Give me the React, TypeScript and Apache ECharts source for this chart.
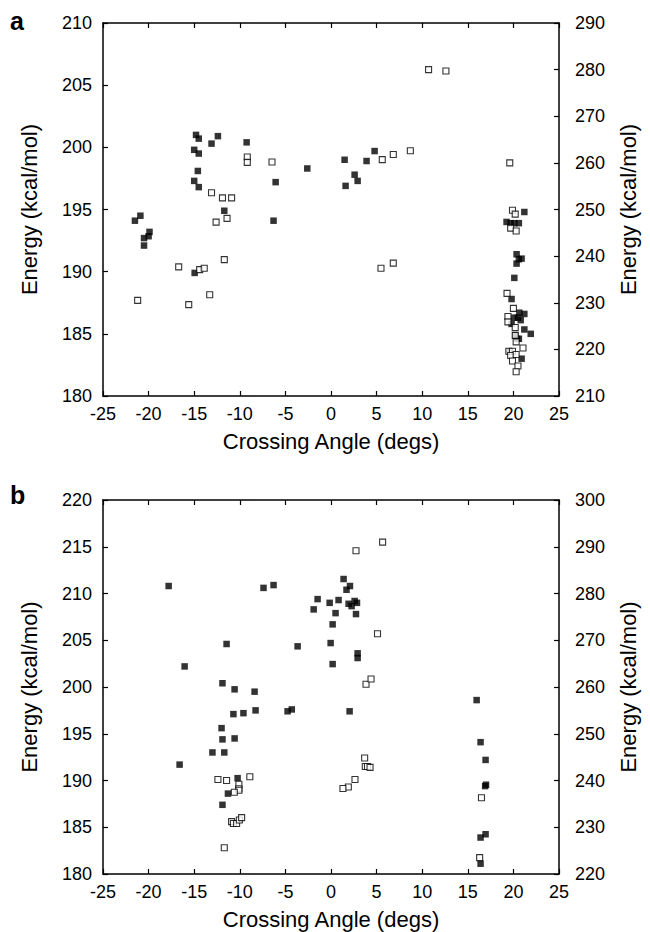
import React, { useEffect, useRef } from "react";
import * as echarts from "echarts";

// Panel a: filled squares (left axis, kcal/mol)
const aFilled: number[][] = [
  [-14.8, 201.0], [-14.5, 200.7], [-12.4, 200.9], [-13.1, 200.3], [-15.0, 199.8], [-14.5, 199.5],
  [-9.25, 200.4], [-14.6, 198.1], [-15.0, 197.3], [-14.5, 196.8], [-6.07, 197.2], [-2.6, 198.3],
  [-11.7, 194.9], [1.49, 199.0], [4.78, 199.7], [3.9, 198.9], [2.59, 197.8], [2.92, 197.3], [1.6, 196.9],
  [-21.5, 194.1], [-20.9, 194.5], [-20.5, 192.7], [-20.5, 192.1], [-20.0, 192.85], [-19.9, 193.2],
  [-14.95, 189.9], [-6.3, 194.1],
  [21.2, 194.8], [19.25, 194.0], [19.7, 193.9], [20.1, 193.9], [20.6, 193.9], [20.35, 191.4],
  [20.9, 191.05], [20.6, 191.0], [20.35, 190.65], [20.1, 189.5], [19.8, 187.8], [20.65, 186.7],
  [21.2, 186.6], [20.1, 186.3], [20.5, 186.3], [20.8, 186.1], [19.8, 185.8], [21.2, 185.35],
  [21.9, 185.0], [20.2, 184.9], [20.4, 184.6], [20.6, 184.6], [20.9, 183.0], [19.6, 183.6],
];
// Panel a: open squares (right axis)
const aOpen: number[][] = [
  [-9.18, 261.25], [-9.18, 260.1], [-6.47, 260.2], [-13.1, 253.6], [-11.9, 252.5], [-10.9, 252.5],
  [10.7, 280.0], [12.6, 279.7], [5.62, 260.7], [6.83, 261.8], [8.7, 262.6], [19.6, 260.0],
  [-21.2, 230.5], [-16.7, 237.7], [-15.6, 229.6], [-14.4, 237.1], [-13.9, 237.4], [-13.3, 231.7],
  [-12.6, 247.3], [-11.4, 248.1], [-11.7, 239.25], [5.48, 237.4], [6.83, 238.5],
  [19.9, 249.85], [20.2, 249.0], [19.7, 246.0], [20.3, 245.4], [19.3, 232.0], [20.0, 228.8],
  [19.4, 227.05], [19.4, 225.9], [20.2, 224.7], [20.2, 223.0], [20.3, 221.6], [21.05, 220.3],
  [19.5, 219.6], [19.9, 219.6], [19.7, 218.7], [20.3, 218.9], [19.9, 217.5], [20.5, 216.45], [20.3, 215.2],
];
// Panel b: filled squares (left axis)
const bFilled: number[][] = [
  [-17.8, 210.8], [-16.05, 202.2], [-11.45, 204.6], [-7.4, 210.6], [-6.3, 210.9], [-3.66, 204.35],
  [1.38, 211.55], [2.08, 210.8], [1.7, 210.4], [-1.47, 209.4], [-1.9, 208.3], [-0.15, 209.0],
  [0.83, 209.3], [0.5, 207.9], [1.93, 208.9], [2.26, 208.65], [2.59, 209.2], [2.85, 209.0],
  [2.74, 207.8], [0.18, 206.7], [-0.04, 204.7], [2.92, 203.6], [2.92, 203.1], [0.18, 202.45],
  [-11.9, 200.4], [-10.57, 199.75], [-8.38, 199.5], [-8.27, 197.5], [-9.6, 197.2], [-10.7, 197.1],
  [-4.76, 197.4], [-4.3, 197.6], [-12.0, 195.6], [-11.9, 194.4], [-10.57, 194.5], [-13.0, 193.0],
  [-11.7, 193.0], [-16.6, 191.7], [-10.24, 190.25], [-11.3, 188.6], [-11.9, 187.4],
  [2.04, 197.4], [15.97, 198.6], [16.4, 194.1], [16.95, 192.2], [17.0, 189.55], [16.9, 189.4],
  [16.95, 184.25], [16.4, 183.9], [16.4, 181.1],
];
// Panel b: open squares (right axis)
const bOpen: number[][] = [
  [5.66, 291.0], [2.74, 289.15], [5.1, 271.4],
  [-12.4, 240.2], [-11.45, 240.0], [-8.9, 240.8], [-10.1, 239.2], [-10.1, 238.25], [-10.1, 237.9],
  [-10.6, 237.5], [-10.9, 231.2], [-10.7, 230.8], [-10.35, 230.8], [-10.05, 231.55], [-9.8, 232.05],
  [-11.7, 225.6],
  [3.84, 260.6], [4.39, 261.7], [3.69, 244.8], [3.76, 243.0], [4.0, 243.0], [4.28, 242.8],
  [2.63, 240.2], [1.9, 238.6], [1.31, 238.3], [16.5, 236.3], [16.3, 223.5],
];

const xRange = [-25, 25, 5];
const aLeftRange = [180, 210, 5];
const aRightRange = [210, 290, 10];
const bLeftRange = [180, 220, 5];
const bRightRange = [220, 300, 10];
const panelLabels = ["a", "b"];
const xName = "Crossing Angle (degs)";
const yName = "Energy (kcal/mol)";

const FONT = "'Liberation Sans', Arial, Helvetica, sans-serif";

export default function App() {
  const ref = useRef<HTMLDivElement>(null);
  useEffect(() => {
    if (!ref.current) return;
    const chart = echarts.init(ref.current, null, { renderer: "svg" });
    const axisLine = { show: true, onZero: false, lineStyle: { color: "#000", width: 1.5 } };
    const axisTick = { show: true, inside: true, length: 5, lineStyle: { color: "#000", width: 1.2 } };
    const label = { color: "#000", fontSize: 18, fontFamily: FONT };
    const nameStyle = { color: "#000", fontSize: 22, fontFamily: FONT };

    const xAxes: any[] = [];
    const yAxes: any[] = [];
    [0, 1].forEach((g) => {
      xAxes.push({
        type: "value", gridIndex: g, position: "bottom", min: xRange[0], max: xRange[1], interval: xRange[2],
        axisLine, axisTick, splitLine: { show: false },
        axisLabel: { ...label, margin: 9 },
        name: xName, nameLocation: "middle", nameGap: 34, nameTextStyle: nameStyle,
      });
      xAxes.push({
        type: "value", gridIndex: g, position: "top", min: xRange[0], max: xRange[1], interval: xRange[2],
        axisLine, axisTick, splitLine: { show: false }, axisLabel: { show: false },
      });
    });
    const lr = [aLeftRange, bLeftRange];
    const rr = [aRightRange, bRightRange];
    [0, 1].forEach((g) => {
      yAxes.push({
        type: "value", gridIndex: g, position: "left", min: lr[g][0], max: lr[g][1], interval: lr[g][2],
        axisLine, axisTick, splitLine: { show: false },
        axisLabel: { ...label, margin: 11 },
        name: yName, nameLocation: "middle", nameGap: 63, nameTextStyle: nameStyle,
      });
      yAxes.push({
        type: "value", gridIndex: g, position: "right", min: rr[g][0], max: rr[g][1], interval: rr[g][2],
        axisLine, axisTick, splitLine: { show: false },
        axisLabel: { ...label, margin: 16 },
        name: yName, nameLocation: "middle", nameGap: 58, nameTextStyle: nameStyle, nameRotate: 90,
      });
    });

    const filledStyle = { color: "#000" };
    const openStyle = { color: "#fff", borderColor: "#000", borderWidth: 1.1 };
    const series: any[] = [
      { type: "scatter", xAxisIndex: 0, yAxisIndex: 0, data: aFilled, symbol: "rect", symbolSize: 6.5, itemStyle: filledStyle },
      { type: "scatter", xAxisIndex: 0, yAxisIndex: 1, data: aOpen, symbol: "rect", symbolSize: 6, itemStyle: openStyle },
      { type: "scatter", xAxisIndex: 2, yAxisIndex: 2, data: bFilled, symbol: "rect", symbolSize: 6.5, itemStyle: filledStyle },
      { type: "scatter", xAxisIndex: 2, yAxisIndex: 3, data: bOpen, symbol: "rect", symbolSize: 6, itemStyle: openStyle },
    ];

    chart.setOption({
      animation: false,
      backgroundColor: "#fff",
      grid: [
        { left: 103, top: 23, width: 456, height: 373 },
        { left: 103, top: 500, width: 456, height: 374 },
      ],
      xAxis: xAxes,
      yAxis: yAxes,
      series,
      graphic: [
        { type: "text", left: 10, top: 8, style: { text: panelLabels[0], font: `bold 25px ${FONT}`, fill: "#000" } },
        { type: "text", left: 10, top: 482, style: { text: panelLabels[1], font: `bold 25px ${FONT}`, fill: "#000" } },
      ],
    });
    return () => chart.dispose();
  }, []);
  return <div ref={ref} style={{ position: "fixed", left: 0, top: 0, width: 650, height: 932 }} />;
}
